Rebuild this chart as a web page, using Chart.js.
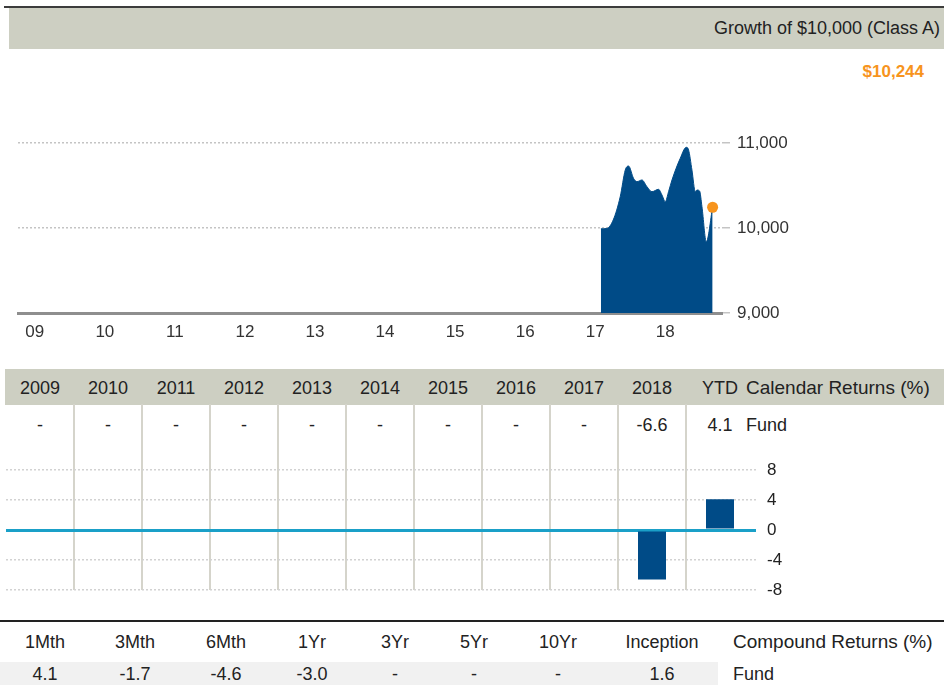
<!DOCTYPE html>
<html>
<head>
<meta charset="utf-8">
<script src="https://cdn.jsdelivr.net/npm/chart.js@4.4.1/dist/chart.umd.min.js"></script>
<style>
  body { margin: 0; background: #fff; font-family: "Liberation Sans", Arial, sans-serif; color: #222; }
  #page { position: relative; width: 944px; height: 685px; overflow: hidden; }
  .abs { position: absolute; }
  .band { background: #cdcfc2; }
  .cell { position: absolute; width: 100px; text-align: center; white-space: nowrap; }
  canvas { position: absolute; left: 0; }
</style>
</head>
<body>
<div id="page">
  <div class="abs" style="left:4px;top:6px;width:940px;height:2px;background:#3c3c3c"></div>
  <div class="abs band" style="left:9px;top:8px;width:935px;height:41px"></div>
  <div class="abs" style="right:4px;top:8px;line-height:41px;font-size:18px">Growth of $10,000 (Class A)</div>
  <div class="abs" id="lastVal" style="right:20px;top:62px;font-size:17px;font-weight:bold;color:#f7941d"></div>

  <canvas id="growth" width="944" height="230" style="top:120px"></canvas>

  <div class="abs band" style="left:5px;top:369px;width:939px;height:36px"></div>
  <div class="abs" id="calHead" style="left:0;top:370px;width:944px;height:36px;line-height:36px;font-size:18px"></div>
  <div class="abs" id="calRow" style="left:0;top:408px;width:944px;height:34px;line-height:34px;font-size:18px"></div>

  <canvas id="cal" width="944" height="196" style="top:404px"></canvas>

  <div class="abs" style="left:0;top:620px;width:944px;height:2px;background:#222"></div>
  <div class="abs" style="left:0;top:662px;width:718px;height:23px;background:#f1f1f1"></div>
  <div class="abs" id="compHead" style="left:0;top:630px;width:944px;height:24px;line-height:24px;font-size:18px"></div>
  <div class="abs" id="compRow" style="left:0;top:663px;width:944px;height:23px;line-height:23px;font-size:18px"></div>
</div>

<script>
// Growth of $10,000
const growthDates  = [2017.081, 2017.167, 2017.257, 2017.357, 2017.429, 2017.476, 2017.547, 2017.596,
                      2017.667, 2017.739, 2017.810, 2017.904, 2017.953, 2018.000, 2018.047, 2018.096,
                      2018.214, 2018.300, 2018.333, 2018.381, 2018.429, 2018.453, 2018.490, 2018.524,
                      2018.586, 2018.676];
const growthValues = [9990, 9995, 10094, 10368, 10682, 10729, 10584, 10545,
                      10565, 10486, 10427, 10455, 10388, 10310, 10427, 10565,
                      10820, 10949, 10918, 10682, 10427, 10447, 10435, 10251,
                      9839, 10244];
const xMin = 2008.76;
const xMax = 2018.81;
const xTickYears  = [2009, 2010, 2011, 2012, 2013, 2014, 2015, 2016, 2017, 2018];
const xTickLabels = ['09', '10', '11', '12', '13', '14', '15', '16', '17', '18'];
const yTicks = [9000, 10000, 11000];

// Calendar returns
const calYears = ['2009', '2010', '2011', '2012', '2013', '2014', '2015', '2016', '2017', '2018', 'YTD'];
const calFund  = [null, null, null, null, null, null, null, null, null, -6.6, 4.1];
const calTicks = [-8, -4, 0, 4, 8];

// Compound returns
const compLabels = ['1Mth', '3Mth', '6Mth', '1Yr', '3Yr', '5Yr', '10Yr', 'Inception'];
const compFund   = [4.1, -1.7, -4.6, -3.0, null, null, null, 1.6];

const NAVY = '#004b87';
const ORANGE = '#f7941d';
const CYAN = '#1aa0c8';

// mise en page des colonnes
const calLeft = 6, calColW = 68;
const compCenters = [45, 135, 226, 312, 395, 474, 558, 662];

function fmt(v) { return v == null ? '-' : v.toFixed(1); }

function addCell(parent, center, text) {
    const d = document.createElement('div');
    d.className = 'cell';
    d.style.left = (center - 50) + 'px';
    d.textContent = text;
    parent.appendChild(d);
}

function addLeft(parent, left, text, size) {
    const d = document.createElement('div');
    d.style.position = 'absolute';
    d.style.left = left + 'px';
    d.style.whiteSpace = 'nowrap';
    if (size) d.style.fontSize = size + 'px';
    d.textContent = text;
    parent.appendChild(d);
}

// --- textes HTML ---
const last = growthValues.length - 1;
document.getElementById('lastVal').textContent = '$' + growthValues[last].toLocaleString('en-US');

const calHead = document.getElementById('calHead');
const calRow = document.getElementById('calRow');
calYears.forEach((y, i) => {
    const c = calLeft + calColW * i + calColW / 2;
    addCell(calHead, c, y);
    addCell(calRow, c, fmt(calFund[i]));
});
addLeft(calHead, 746, 'Calendar Returns (%)', 19);
addLeft(calRow, 746, 'Fund');

const compHead = document.getElementById('compHead');
const compRow = document.getElementById('compRow');
compLabels.forEach((l, i) => {
    addCell(compHead, compCenters[i], l);
    addCell(compRow, compCenters[i], fmt(compFund[i]));
});
addLeft(compHead, 733, 'Compound Returns (%)', 19);
addLeft(compRow, 733, 'Fund');

// --- graphiques ---
Chart.defaults.font.family = '"Liberation Sans", Arial, sans-serif';

new Chart(document.getElementById('growth'), {
    type: 'line',
    data: {
        datasets: [{
            data: growthDates.map((d, i) => ({ x: d, y: growthValues[i] })),
            fill: 'start',
            backgroundColor: NAVY,
            borderColor: NAVY,
            borderWidth: 1,
            cubicInterpolationMode: 'monotone',
            pointRadius: ctx => ctx.dataIndex === last ? 5.5 : 0,
            pointBackgroundColor: ORANGE,
            pointBorderWidth: 0,
            pointHoverRadius: 0
        }]
    },
    options: {
        responsive: false,
        animation: false,
        events: [],
        layout: { padding: { top: 23, left: 18, right: 0, bottom: 0 } },
        plugins: { legend: { display: false }, tooltip: { enabled: false } },
        scales: {
            x: {
                type: 'linear', min: xMin, max: xMax,
                afterBuildTicks: s => { s.ticks = xTickYears.map(v => ({ value: v })); },
                ticks: { callback: (v, i) => xTickLabels[i], padding: 1, color: '#333', font: { size: 17 }, maxRotation: 0, autoSkip: false },
                grid: { display: false },
                border: { display: true, color: '#8e8e8e', width: 3 },
                afterFit: s => { s.height = 37; s.paddingLeft = 0; s.paddingRight = 0; }
            },
            y: {
                position: 'right', min: 9000, max: 11000,
                afterBuildTicks: s => { s.ticks = yTicks.map(v => ({ value: v })); },
                ticks: { callback: v => v.toLocaleString('en-US'), padding: 7, color: '#333', font: { size: 17 } },
                grid: { color: '#c4c4c4', lineWidth: 1.5, tickLength: 8 },
                border: { display: false, dash: [2, 2] },
                afterFit: s => { s.width = 222; s.paddingTop = 0; s.paddingBottom = 0; }
            }
        }
    }
});

new Chart(document.getElementById('cal'), {
    type: 'bar',
    data: {
        labels: calYears,
        datasets: [{ data: calFund, backgroundColor: NAVY, barPercentage: 28 / 68, categoryPercentage: 1 }]
    },
    options: {
        responsive: false,
        animation: false,
        events: [],
        layout: { padding: { top: 0, left: calLeft, right: 0, bottom: 10 } },
        plugins: { legend: { display: false }, tooltip: { enabled: false } },
        scales: {
            x: {
                ticks: { display: false },
                grid: {
                    offset: true, drawTicks: false, lineWidth: 2,
                    color: ctx => (ctx.tick && ctx.index > 0) ? '#d5d4cb' : 'rgba(0,0,0,0)'
                },
                border: { display: false },
                afterFit: s => { s.height = 0; }
            },
            y: {
                position: 'right', min: -8, max: 16.8,
                afterBuildTicks: s => { s.ticks = calTicks.map(v => ({ value: v })); },
                ticks: { padding: 11, color: '#222', font: { size: 17 } },
                grid: {
                    tickLength: 2,
                    color: ctx => (ctx.tick && ctx.tick.value === 0) ? CYAN : '#d2d2d2',
                    lineWidth: ctx => (ctx.tick && ctx.tick.value === 0) ? 3 : 1.5
                },
                border: { display: false, dash: ctx => (ctx.tick && ctx.tick.value === 0) ? [] : [2, 2] },
                afterFit: s => { s.width = 944 - 754; s.paddingTop = 0; s.paddingBottom = 0; }
            }
        }
    }
});
</script>
</body>
</html>
